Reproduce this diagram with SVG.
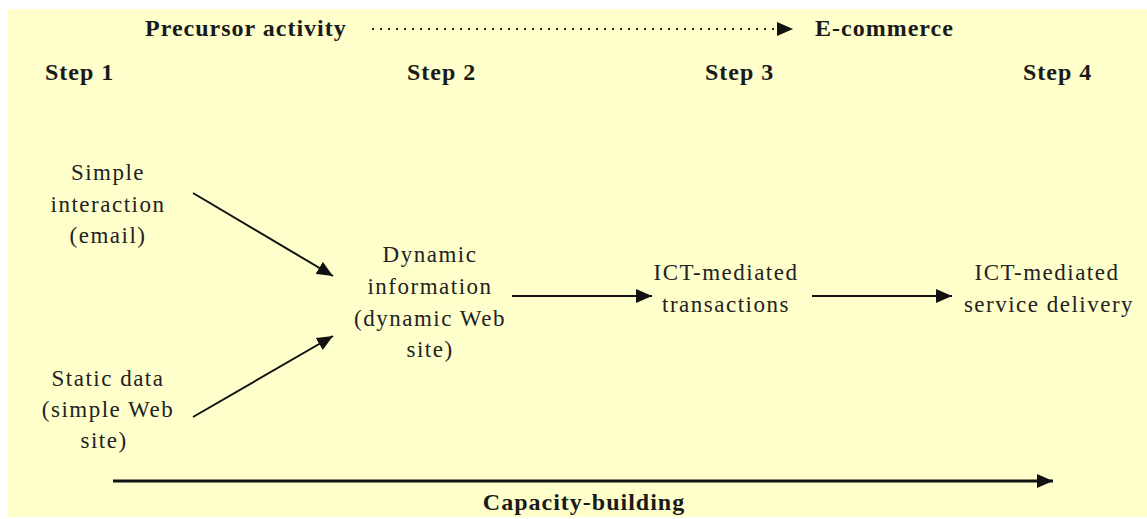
<svg xmlns="http://www.w3.org/2000/svg" width="1147" height="519" viewBox="0 0 1147 519" font-family="Liberation Serif, DejaVu Serif, serif">
<style>
.h{font-weight:bold;font-size:24px;fill:#1a1a1a;letter-spacing:1px}
.t{font-size:23px;fill:#222;letter-spacing:1.5px;text-anchor:middle}
.c{stroke:#111;stroke-width:2;fill:none}
</style>
<defs>
<marker id="ahs" viewBox="0 0 10 10" refX="10" refY="5" markerWidth="16" markerHeight="14" markerUnits="userSpaceOnUse" orient="auto" preserveAspectRatio="none">
<path d="M0,0 L10,5 L0,10 z" fill="#111"/>
</marker>
</defs>
<rect x="8" y="9" width="1139" height="508" fill="#FFFFCC"/>
<g id="headers" font-family="Liberation Serif, serif">
<text class="h" x="145" y="36">Precursor activity</text>
<text class="h" x="815" y="36">E-commerce</text>
<text class="h" x="45" y="80">Step 1</text>
<text class="h" x="407" y="80">Step 2</text>
<text class="h" x="705" y="80">Step 3</text>
<text class="h" x="1023" y="80">Step 4</text>
</g>
<g id="connectors">
<line x1="372" y1="29" x2="793" y2="29" stroke="#222" stroke-width="2" stroke-dasharray="2,6" marker-end="url(#ahs)"/>
<line class="c" x1="193" y1="193" x2="333" y2="276" marker-end="url(#ahs)"/>
<line class="c" x1="193" y1="417" x2="333" y2="336" marker-end="url(#ahs)"/>
<line class="c" x1="512" y1="296" x2="652" y2="296" marker-end="url(#ahs)"/>
<line class="c" x1="812" y1="296" x2="952" y2="296" marker-end="url(#ahs)"/>
<line x1="113" y1="481" x2="1053" y2="481" stroke="#111" stroke-width="3" marker-end="url(#ahs)"/>
</g>
<g id="node-simple-interaction" font-family="Liberation Serif, serif">
<text class="t" x="108" y="180">Simple</text>
<text class="t" x="108" y="212">interaction</text>
<text class="t" x="108" y="243">(email)</text>
</g>
<g id="node-static-data" font-family="Liberation Serif, serif">
<text class="t" x="108" y="386">Static data</text>
<text class="t" x="108" y="417">(simple Web</text>
<text class="t" x="104" y="448">site)</text>
</g>
<g id="node-dynamic-information" font-family="Liberation Serif, serif">
<text class="t" x="430" y="262">Dynamic</text>
<text class="t" x="430" y="294">information</text>
<text class="t" x="430" y="326">(dynamic Web</text>
<text class="t" x="430" y="357">site)</text>
</g>
<g id="node-ict-transactions" font-family="Liberation Serif, serif">
<text class="t" x="726" y="280">ICT-mediated</text>
<text class="t" x="726" y="312">transactions</text>
</g>
<g id="node-ict-service" font-family="Liberation Serif, serif">
<text class="t" x="1047" y="280">ICT-mediated</text>
<text class="t" x="1049" y="312">service delivery</text>
</g>
<g id="capacity" font-family="Liberation Serif, serif">
<text class="h" x="584" y="510" text-anchor="middle" letter-spacing="0">Capacity-building</text>
</g>
</svg>
